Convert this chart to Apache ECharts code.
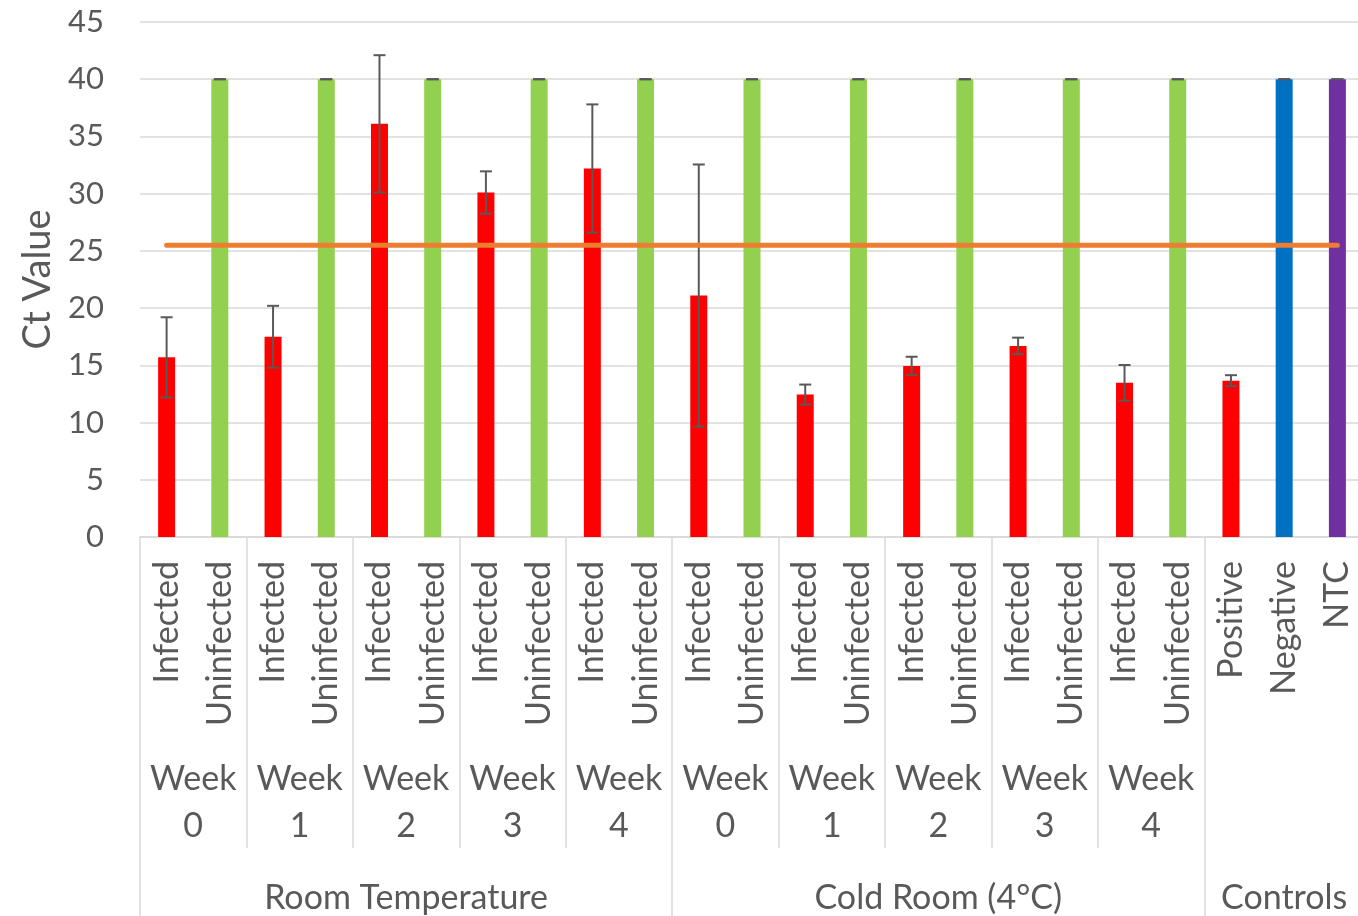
<!DOCTYPE html>
<html>
<head>
<meta charset="utf-8">
<script src="https://cdn.jsdelivr.net/npm/echarts@6/dist/echarts.min.js"></script>
<style>
  html, body { margin: 0; padding: 0; background: #ffffff; }
  #chart { width: 1358px; height: 916px; }
</style>
</head>
<body>
<div id="chart"></div>
<script>
// ---- Data ----
const barLabels = [
  'Infected', 'Uninfected', 'Infected', 'Uninfected', 'Infected', 'Uninfected',
  'Infected', 'Uninfected', 'Infected', 'Uninfected',
  'Infected', 'Uninfected', 'Infected', 'Uninfected', 'Infected', 'Uninfected',
  'Infected', 'Uninfected', 'Infected', 'Uninfected',
  'Positive', 'Negative', 'NTC'
];
const ctValues = [
  15.7, 40, 17.5, 40, 36.1, 40, 30.1, 40, 32.2, 40,
  21.1, 40, 12.45, 40, 14.95, 40, 16.7, 40, 13.47, 40,
  13.66, 40, 40
];
const ctErrors = [
  3.5, 0, 2.7, 0, 6.0, 0, 1.85, 0, 5.6, 0,
  11.45, 0, 0.87, 0, 0.8, 0, 0.72, 0, 1.56, 0,
  0.48, 0, 0
];
const weekLabels = ['Week\n0', 'Week\n1', 'Week\n2', 'Week\n3', 'Week\n4',
                    'Week\n0', 'Week\n1', 'Week\n2', 'Week\n3', 'Week\n4'];
const groupLabels = ['Room Temperature', 'Cold Room (4°C)', 'Controls'];
const groupSizes = [10, 10, 3];      // bars per top-level group
const weekSize = 2;                  // bars per week group
const thresholdCt = 25.5;
const yTicks = { min: 0, max: 45, step: 5 };

// ---- Styles ----
const FONT = 'Lato';
const TEXT = '#595959';
const GRID = '#d9d9d9';
const barPalette = {
  Infected: '#FF0000', Uninfected: '#92D050', Positive: '#FF0000',
  Negative: '#0070C0', NTC: '#7030A0'
};

// ---- Helper axes on a half-bar grid (boundaryGap false) ----
const nBars = barLabels.length;
const nHalf = nBars * 2 + 1;
const weekAxisData = Array(nHalf).fill('');
weekLabels.forEach((w, k) => { weekAxisData[(k * weekSize + weekSize / 2) * 2] = w; });
const weekTickIdx = new Set();
for (let k = 0; k <= weekLabels.length; k++) weekTickIdx.add(k * weekSize * 2);

const groupAxisData = Array(nHalf).fill('');
const groupTickIdx = new Set([0]);
let start = 0;
groupLabels.forEach((g, k) => {
  groupAxisData[start * 2 + groupSizes[k]] = g;
  start += groupSizes[k];
  groupTickIdx.add(start * 2);
});

const barData = ctValues.map((v, i) => ({
  value: v, itemStyle: { color: barPalette[barLabels[i]] }
}));
const errData = ctValues.map((v, i) => [i, v - ctErrors[i], v + ctErrors[i]]);
const lineData = barLabels.map(() => thresholdCt);

const chart = echarts.init(document.getElementById('chart'), null, { renderer: 'canvas' });
chart.setOption({
  animation: false,
  backgroundColor: '#ffffff',
  textStyle: { fontFamily: FONT },
  grid: { left: 140, top: 22, right: -6, bottom: 379, containLabel: false, outerBoundsMode: 'none' },
  xAxis: [
    {
      type: 'category', data: barLabels, position: 'bottom',
      axisLine: { lineStyle: { color: GRID, width: 1.5 } },
      axisTick: { show: false },
      axisLabel: { rotate: 90, interval: 0, margin: 24, fontSize: 34, color: TEXT, fontFamily: FONT }
    },
    {
      type: 'category', data: weekAxisData, position: 'bottom', boundaryGap: false,
      axisLine: { show: false },
      axisTick: { show: true, length: 311, interval: (i) => weekTickIdx.has(i),
                  lineStyle: { color: GRID, width: 1.5 } },
      axisLabel: { interval: 0, margin: 219, fontSize: 34, lineHeight: 47, color: TEXT,
                   fontFamily: FONT, align: 'center' }
    },
    {
      type: 'category', data: groupAxisData, position: 'bottom', boundaryGap: false,
      axisLine: { show: false },
      axisTick: { show: true, length: 379, interval: (i) => groupTickIdx.has(i),
                  lineStyle: { color: GRID, width: 1.5 } },
      axisLabel: { interval: 0, margin: 344, fontSize: 34, color: TEXT, fontFamily: FONT, align: 'center' }
    }
  ],
  yAxis: {
    type: 'value', min: yTicks.min, max: yTicks.max, interval: yTicks.step,
    name: 'Ct Value', nameLocation: 'middle', nameGap: 80,
    nameTextStyle: { fontSize: 38, color: TEXT, fontFamily: FONT },
    axisLine: { show: false }, axisTick: { show: false },
    axisLabel: { fontSize: 31, color: TEXT, margin: 36, fontFamily: FONT },
    splitLine: { lineStyle: { color: GRID, width: 1.5 } }
  },
  series: [
    {
      type: 'bar', data: barData, barWidth: 17, z: 2
    },
    {
      type: 'custom', data: errData, z: 3,
      encode: { x: 0, y: [1, 2] },
      renderItem: function (params, api) {
        const x = api.value(0);
        const lo = api.coord([x, api.value(1)]);
        const hi = api.coord([x, api.value(2)]);
        const hw = 6;
        const style = { stroke: TEXT, lineWidth: 2 };
        return {
          type: 'group',
          children: [
            { type: 'line', shape: { x1: lo[0], y1: lo[1], x2: hi[0], y2: hi[1] }, style: style },
            { type: 'line', shape: { x1: hi[0] - hw, y1: hi[1], x2: hi[0] + hw, y2: hi[1] }, style: style },
            { type: 'line', shape: { x1: lo[0] - hw, y1: lo[1], x2: lo[0] + hw, y2: lo[1] }, style: style }
          ]
        };
      }
    },
    {
      type: 'line', data: lineData, showSymbol: false, symbol: 'none', z: 4,
      lineStyle: { color: '#ED7D31', width: 5, cap: 'round' }
    }
  ]
});
</script>
</body>
</html>
